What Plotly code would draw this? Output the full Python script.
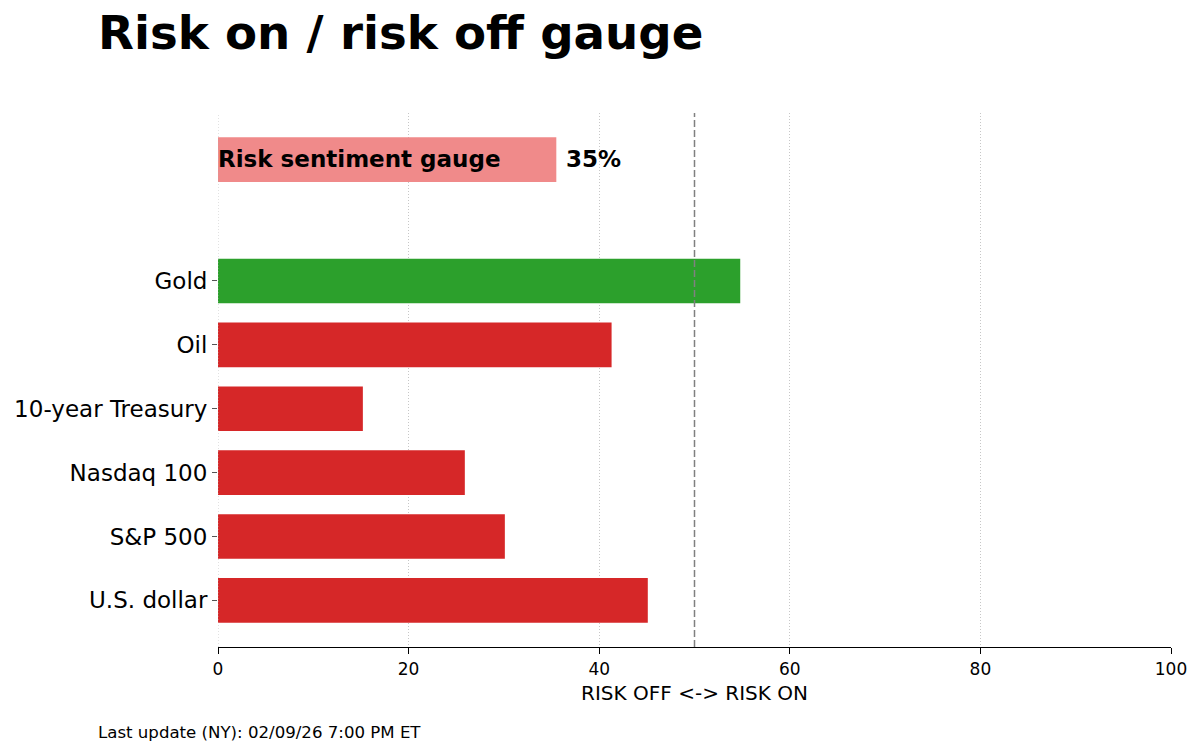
import plotly.graph_objects as go

categories = ["U.S. dollar", "S&P 500", "Nasdaq 100", "10-year Treasury", "Oil", "Gold"]
values = [45.1, 30.1, 25.9, 15.2, 41.3, 54.8]
colors = ["#d62728", "#d62728", "#d62728", "#d62728", "#d62728", "#2ca02c"]
gauge_label = "Risk sentiment gauge"
gauge_value = 35.5
gauge_text = "35%"
x_ticks = [0, 20, 40, 60, 80, 100]

positions = list(range(len(categories)))
gauge_pos = 6.9
FONT = "DejaVu Sans"

# page layout (the html body adds an 8px offset)
OFF = 8
PL, PR, PT, PB = 218, 1171, 113, 647
W, H = 1184, 736
ML = PL - OFF
MT = PT - OFF
MR = W - ML - (PR - PL)
MB = H - MT - (PB - PT)


def px_x(X):
    return (X - PL) / (PR - PL)


def px_y(Y):
    return (PB - Y) / (PB - PT)


fig = go.Figure()
fig.add_trace(go.Bar(
    x=values, y=positions, orientation="h", width=0.7,
    marker=dict(color=colors, line=dict(width=0)), showlegend=False,
    hovertext=categories,
))
fig.add_trace(go.Bar(
    x=[gauge_value], y=[gauge_pos], orientation="h", width=0.7,
    marker=dict(color="rgb(240,138,138)", line=dict(width=0)), showlegend=False,
))

annotations = [
    dict(x=0, y=gauge_pos, xref="x", yref="y", text="<b>" + gauge_label + "</b>",
         showarrow=False, xanchor="left", yanchor="middle", xshift=-2, yshift=1,
         font=dict(family=FONT, size=23, color="black")),
    dict(x=gauge_value + 0.8, y=gauge_pos, xref="x", yref="y", text="<b>" + gauge_text + "</b>",
         showarrow=False, xanchor="left", yanchor="middle", yshift=1,
         font=dict(family=FONT, size=23, color="black")),
    dict(text="Last update (NY): 02/09/26 7:00 PM ET", x=px_x(96), y=px_y(732), xref="paper", yref="paper",
         xanchor="left", yanchor="middle", showarrow=False,
         font=dict(family=FONT, size=16.6, color="black")),
]

shapes = [
    dict(type="line", x0=0, x1=0, y0=0, y1=1, xref="x", yref="paper",
         line=dict(color="rgba(175,175,175,0.7)", width=1, dash="1px,2px"), layer="above"),
    dict(type="line", x0=50, x1=50, y0=0, y1=1, xref="x", yref="paper",
         line=dict(color="gray", width=1.5, dash="7px,3px"), layer="above"),
]

fig.update_layout(
    width=W, height=H,
    margin=dict(l=ML, r=MR, t=MT, b=MB, pad=0, autoexpand=False),
    paper_bgcolor="white", plot_bgcolor="white",
    font=dict(family=FONT, color="black"),
    title=dict(text="<b>Risk on / risk off gauge</b>", xref="container", yref="container",
               x=(98 - OFF) / W, y=1 - (33 - OFF) / H, xanchor="left", yanchor="middle",
               font=dict(family=FONT, size=46.7, color="black")),
    annotations=annotations, shapes=shapes,
)

fig.update_xaxes(
    range=[0, 100], tickvals=x_ticks, ticks="outside", ticklen=6, tickwidth=1.2, tickcolor="black",
    tickfont=dict(family=FONT, size=17, color="black"), automargin=False,
    showline=True, linecolor="black", linewidth=1.3,
    showgrid=True, gridcolor="rgba(175,175,175,0.7)", griddash="1px,2px", gridwidth=1,
    layer="above traces", zeroline=False,
    title=dict(text="RISK OFF <-> RISK ON", font=dict(family=FONT, size=20, color="black"), standoff=8),
)
fig.update_yaxes(
    range=[-0.73, 7.63], tickvals=positions, ticktext=categories, automargin=False,
    ticks="outside", ticklen=5, tickcolor="#555", tickwidth=1,
    tickfont=dict(family=FONT, size=23, color="black"),
    showline=False, showgrid=False, zeroline=False,
)

fig.write_html("out.html")
